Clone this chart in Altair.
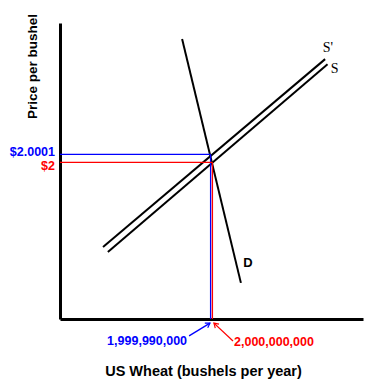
import altair as alt
import pandas as pd

# Curves (quantity index, price index)
curve_names = ["D", "S'", "S"]
curve_x1 = [40.3, 14.2, 15.8]
curve_y1 = [94.6, 24.3, 22.6]
curve_x2 = [59.7, 87.5, 88.3]
curve_y2 = [12.2, 87.8, 86.1]

# Equilibria: S' (blue) and S (red)
eq_names = ["S'", "S"]
eq_q = [49.7, 50.3]
eq_p = [55.6, 52.9]
eq_colors = ["#0000ff", "#ff0000"]
price_labels = ["$2.0001", "$2"]
qty_labels = ["1,999,990,000", "2,000,000,000"]

# Arrows from quantity labels to axis
arrow_tail_x = [42.6, 57.1]
arrow_tail_y = [-5.7, -7.4]
arrow_head_x = [49.5, 50.8]
arrow_head_y = [-1.4, -1.4]
arrow_angle = [58, 313]

# Curve labels
supply_label_text = ["S'", "S"]
supply_label_x = [88.4, 90.6]
supply_label_y = [91.6, 84.3]
demand_label_text = ["D"]
demand_label_x = [62.0]
demand_label_y = [18.9]

xs = alt.Scale(domain=[0, 100], nice=False, zero=False)
ys = alt.Scale(domain=[0, 100], nice=False, zero=False)

curves = pd.DataFrame({"name": curve_names, "x": curve_x1, "y": curve_y1,
                       "x2": curve_x2, "y2": curve_y2})

segs = []
for i in range(2):
    segs.append({"x": 0, "y": eq_p[i], "x2": eq_q[i], "y2": eq_p[i], "c": eq_colors[i]})
    segs.append({"x": eq_q[i], "y": eq_p[i], "x2": eq_q[i], "y2": 0, "c": eq_colors[i]})
    segs.append({"x": arrow_tail_x[i], "y": arrow_tail_y[i], "x2": arrow_head_x[i],
                 "y2": arrow_head_y[i], "c": eq_colors[i]})
segs = pd.DataFrame(segs)

heads = pd.DataFrame({"x": arrow_head_x, "y": arrow_head_y, "a": arrow_angle, "c": eq_colors})

plabels = pd.DataFrame({"p": eq_p, "t": price_labels, "c": eq_colors})
qlabels = pd.DataFrame({"x": arrow_tail_x, "y": arrow_tail_y, "t": qty_labels, "c": eq_colors})
slabels = pd.DataFrame({"x": supply_label_x, "y": supply_label_y, "t": supply_label_text})
dlabels = pd.DataFrame({"x": demand_label_x, "y": demand_label_y, "t": demand_label_text})

base_x = alt.X("x:Q", scale=xs, axis=alt.Axis(
    title="US Wheat (bushels per year)", labels=False, ticks=False, grid=False,
    domainColor="black", domainWidth=3, titleFont="Liberation Sans", titleFontWeight="bold",
    titleFontSize=14.5, titleX=143, titleY=52, titleAlign="center", titleBaseline="middle",
    titleColor="black"))
base_y = alt.Y("y:Q", scale=ys, axis=alt.Axis(
    title="Price per bushel", labels=False, ticks=False, grid=False,
    domainColor="black", domainWidth=3, titleFont="Liberation Sans", titleFontWeight="bold",
    titleFontSize=13.5, titleX=-28, titleY=43, titleAngle=270, titleAlign="center",
    titleBaseline="middle", titleColor="black"))

curve_layer = alt.Chart(curves).mark_rule(color="black", strokeWidth=2).encode(
    x=base_x, y=base_y, x2="x2:Q", y2="y2:Q")

seg_layer = alt.Chart(segs).mark_rule(strokeWidth=1.3).encode(
    x=alt.X("x:Q", scale=xs), y=alt.Y("y:Q", scale=ys), x2="x2:Q", y2="y2:Q",
    color=alt.Color("c:N", scale=None))

head_layer = alt.Chart(heads).mark_point(
    shape="M-1,1.6L0,0L1,1.6", filled=False, size=30, strokeWidth=1.2, opacity=1).encode(
    x=alt.X("x:Q", scale=xs), y=alt.Y("y:Q", scale=ys),
    angle=alt.Angle("a:Q", scale=None), stroke=alt.Color("c:N", scale=None))

plabel_blue = alt.Chart(plabels.iloc[[0]]).mark_text(
    align="right", baseline="middle", dx=-5, dy=-2, font="Liberation Sans",
    fontWeight="bold", fontSize=12.5).encode(
    x=alt.value(0), y=alt.Y("p:Q", scale=ys),
    text="t:N", color=alt.Color("c:N", scale=None))
plabel_red = alt.Chart(plabels.iloc[[1]]).mark_text(
    align="right", baseline="middle", dx=-5, dy=4, font="Liberation Sans",
    fontWeight="bold", fontSize=12.5).encode(
    x=alt.value(0), y=alt.Y("p:Q", scale=ys),
    text="t:N", color=alt.Color("c:N", scale=None))

qlabel_blue = alt.Chart(qlabels.iloc[[0]]).mark_text(
    align="right", baseline="middle", dx=-2, dy=5, font="Liberation Sans", fontWeight="bold",
    fontSize=12.5).encode(
    x=alt.X("x:Q", scale=xs), y=alt.Y("y:Q", scale=ys), text="t:N",
    color=alt.Color("c:N", scale=None))
qlabel_red = alt.Chart(qlabels.iloc[[1]]).mark_text(
    align="left", baseline="middle", dx=1, dy=1, font="Liberation Sans", fontWeight="bold",
    fontSize=12.5).encode(
    x=alt.X("x:Q", scale=xs), y=alt.Y("y:Q", scale=ys), text="t:N",
    color=alt.Color("c:N", scale=None))

slabel_layer = alt.Chart(slabels).mark_text(
    align="center", baseline="middle", fontSize=14, color="black",
    font="Liberation Serif").encode(
    x=alt.X("x:Q", scale=xs), y=alt.Y("y:Q", scale=ys), text="t:N")
dlabel_layer = alt.Chart(dlabels).mark_text(
    align="center", baseline="middle", fontSize=13, color="black",
    font="Liberation Sans", fontWeight="bold").encode(
    x=alt.X("x:Q", scale=xs), y=alt.Y("y:Q", scale=ys), text="t:N")

chart = alt.layer(curve_layer, seg_layer, head_layer, plabel_blue, plabel_red,
                  qlabel_blue, qlabel_red, slabel_layer, dlabel_layer).properties(
    width=303, height=296,
    autosize=alt.AutoSizeParams(type="none"),
    padding={"left": 60, "top": 23, "right": 12, "bottom": 68},
    background="white",
).configure_view(stroke=None)

chart.save("out.html", embed_options={"renderer": "svg", "actions": False})
